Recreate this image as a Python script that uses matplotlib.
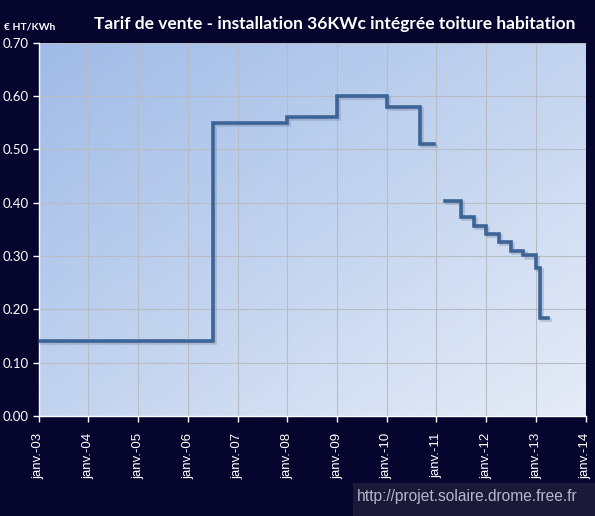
import matplotlib
matplotlib.use("Agg")
import matplotlib.pyplot as plt
import matplotlib.dates as mdates
import matplotlib.patheffects as pe
import numpy as np

# Data (step tariffs, value applies from date onward)
dates_a = ["2003-01-01", "2006-07-01", "2008-01-01", "2009-01-01", "2010-01-01", "2010-09-01", "2010-12-15"]
values_a = [0.14, 0.55, 0.56, 0.60, 0.58, 0.51, 0.51]
dates_b = ["2011-03-01", "2011-07-01", "2011-10-01", "2012-01-01", "2012-04-01", "2012-07-01",
           "2012-10-01", "2013-01-01", "2013-02-01", "2013-04-01"]
values_b = [0.403, 0.374, 0.357, 0.341, 0.326, 0.310, 0.301, 0.278, 0.184, 0.184]
tick_years = list(range(2003, 2015))
tick_labels = ["janv.-%02d" % (y % 100) for y in tick_years]
y_ticks = [0.0, 0.1, 0.2, 0.3, 0.4, 0.5, 0.6, 0.7]

navy = "#05052e"
line_col = "#3c6496"

fig = plt.figure(figsize=(5.95, 5.16), dpi=100, facecolor=navy)
ax = fig.add_axes([38.7 / 595, 1 - 416 / 516, (585.7 - 38.7) / 595, (416 - 42.7) / 516])

# gradient background (top-left blue -> bottom-right pale)
n = 200
gx, gy = np.meshgrid(np.linspace(0, 1, n), np.linspace(0, 1, n))
t = np.clip((gx + gy) / 2, 0, 1)
c0 = np.array([0x9f, 0xbb, 0xe7]) / 255
c1 = np.array([0xe6, 0xec, 0xf7]) / 255
img = c0[None, None, :] * (1 - t[..., None]) + c1[None, None, :] * t[..., None]
ax.imshow(img, extent=[0, 1, 0, 1], transform=ax.transAxes, aspect="auto", zorder=0, origin="upper")

da = [mdates.date2num(np.datetime64(d)) for d in dates_a]
db = [mdates.date2num(np.datetime64(d)) for d in dates_b]
shadow = [pe.SimpleLineShadow(offset=(1.5, -1.5), shadow_color="#7080a0", alpha=0.35), pe.Normal()]
ax.plot(da, values_a, drawstyle="steps-post", color=line_col, lw=2.6, zorder=3,
        solid_joinstyle="miter", path_effects=shadow)
ax.plot(db, values_b, drawstyle="steps-post", color=line_col, lw=2.6, zorder=3,
        solid_joinstyle="miter", path_effects=shadow)

xt = [mdates.date2num(np.datetime64("%d-01-01" % y)) for y in tick_years]
ax.set_xlim(xt[0], xt[-1])
ax.set_ylim(0, 0.7)
ax.set_xticks(xt)
ax.set_xticklabels(tick_labels, rotation=90, color="white", fontsize=9.5, family="Liberation Sans")
ax.set_yticks(y_ticks)
ax.set_yticklabels(["%.2f" % v for v in y_ticks], color="white", fontsize=9.5, family="Lato")
ax.grid(True, color="#b8bcc4", lw=0.8, zorder=1)
ax.set_axisbelow(True)
for s in ["top", "right"]:
    ax.spines[s].set_visible(False)
for s in ["left", "bottom"]:
    ax.spines[s].set_color("white")
    ax.spines[s].set_linewidth(1.0)
ax.tick_params(axis="both", colors="white", length=4, width=1)
ax.tick_params(axis="x", pad=8)
ax.tick_params(axis="y", pad=3)

fig.text(335 / 595, 1 - 24 / 516, "Tarif de vente - installation 36KWc intégrée toiture habitation",
         color="white", fontsize=12.5, fontweight="bold", family="Lato", ha="center", va="center")
fig.text(4 / 595, 1 - 27 / 516, "€ HT/KWh", color="white", fontsize=7.5, fontweight="bold",
         family="Lato", ha="left", va="center")

# watermark
fig.patches.append(plt.Rectangle((353 / 595, 0), (595 - 353) / 595, 33 / 516, transform=fig.transFigure,
                                 facecolor="#1a1a38", edgecolor="none", zorder=1))
fig.text(357 / 595, 1 - 496 / 516, "http://projet.solaire.drome.free.fr", color="#b4b8cc",
         fontsize=11.2, family="Liberation Sans", ha="left", va="center", zorder=2)

fig.savefig("out.png", dpi=100, facecolor=navy)
